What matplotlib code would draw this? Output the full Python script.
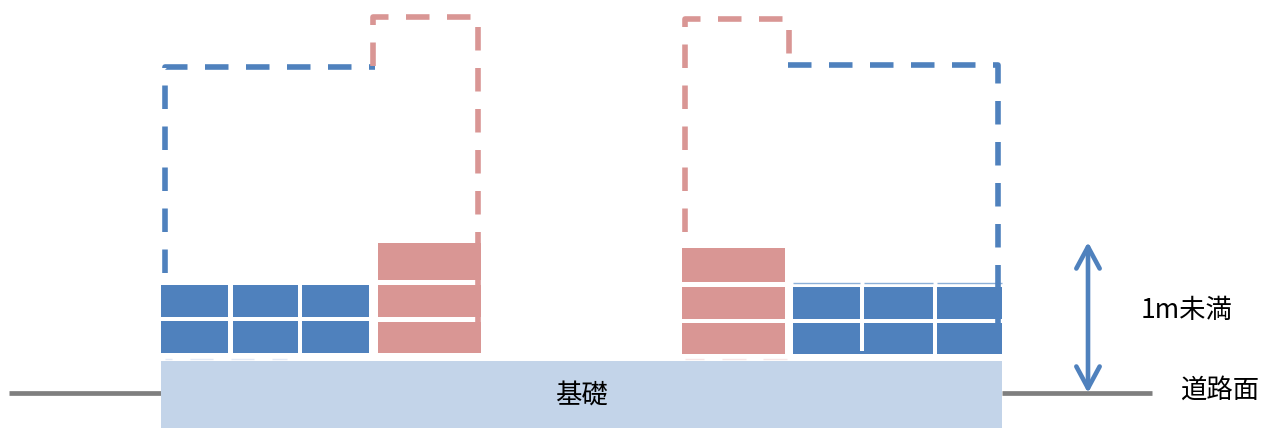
import matplotlib
matplotlib.use("Agg")
import matplotlib.pyplot as plt
from matplotlib.patches import Rectangle

plt.rcParams['font.family'] = ['Noto Sans CJK JP', 'DejaVu Sans']
plt.rcParams['lines.scale_dashes'] = False

BLUE = "#4F81BD"
PINK = "#D99694"
BASE = "#C3D4E9"
ROAD = "#7F7F7F"

# everything in pixels
left_blue_xs = [(161, 228), (233, 298), (302, 369)]
left_blue_ys = [(285, 317), (321, 353)]
left_pink_xs = [(378, 481)]
left_pink_ys = [(243, 280), (285, 317), (322, 353)]
right_pink_xs = [(682, 785)]
right_pink_ys = [(248, 282), (287, 319), (323, 354)]
right_blue_xs = [(793, 860), (864, 933), (937, 1002)]
right_blue_ys = [(287, 319), (323, 354)]
joint_xs = [(860, 864)]
joint_ys = [(351, 354)]
top_edge_xs = [(793, 860), (864, 933), (937, 1002)]
top_edge_y = 282.5

# faint leftovers just above the foundation
faint_blue_xs = [(165, 172), (190, 213), (231, 254), (272, 287)]
faint_pink_xs = [(685, 704), (722, 746), (763, 787)]
faint_y = 358.5

base_box = (161, 1002, 361, 428)
road_left = [9, 161]
road_right = [1002, 1152]
road_y = 392.5

# dashed outlines of the houses, with the dash phase in px
blue_left_x = [165, 165, 375]
blue_left_y = [285, 67, 67]
blue_left_phase = 29
pink_left_x = [373, 373, 478, 478]
pink_left_y = [66, 17, 17, 340]
pink_left_phase = 0
pink_right_x = [685, 685, 789, 789]
pink_right_y = [248, 19, 19, 64]
pink_right_phase = 25
blue_right_x = [788, 998, 998]
blue_right_y = [65, 65, 335]
blue_right_phase = 0

arrow_x = 1088
arrow_top = 242
arrow_bottom = 393

PX = 72 / 100  # px to points at this dpi

fig = plt.figure(figsize=(12.64, 4.28), dpi=100)
ax = fig.add_axes([0, 0, 1, 1])
ax.set_xlim(0, 1264)
ax.set_ylim(428, 0)
ax.axis("off")


def bricks(xs, ys, color):
    for x0, x1 in xs:
        for y0, y1 in ys:
            ax.add_patch(Rectangle((x0, y0), x1 - x0, y1 - y0, fc=color, ec="none", zorder=2))


bricks(left_blue_xs, left_blue_ys, BLUE)
bricks(left_pink_xs, left_pink_ys, PINK)
bricks(right_pink_xs, right_pink_ys, PINK)
bricks(right_blue_xs, right_blue_ys, BLUE)
bricks(joint_xs, joint_ys, BLUE)

for x0, x1 in top_edge_xs:
    ax.plot([x0, x1], [top_edge_y, top_edge_y], color="#8DB0D8", lw=1.4 * PX, solid_capstyle="butt", zorder=2)
for x0, x1 in faint_blue_xs:
    ax.plot([x0, x1], [faint_y, faint_y], color="#E4EAF5", lw=1.4 * PX, solid_capstyle="butt", zorder=1)
for x0, x1 in faint_pink_xs:
    ax.plot([x0, x1], [faint_y, faint_y], color="#F6E6E6", lw=1.4 * PX, solid_capstyle="butt", zorder=1)

ax.add_patch(Rectangle((base_box[0], base_box[2]), base_box[1] - base_box[0],
                       base_box[3] - base_box[2], fc=BASE, ec="none", zorder=2))

ax.plot(road_left, [road_y, road_y], color=ROAD, lw=4.7 * PX, solid_capstyle="butt", zorder=1)
ax.plot(road_right, [road_y, road_y], color=ROAD, lw=4.7 * PX, solid_capstyle="butt", zorder=1)

dash_on = 23.5 * PX
dash_off = 17.5 * PX
for xs, ys, phase, color in [(blue_left_x, blue_left_y, blue_left_phase, BLUE),
                             (pink_left_x, pink_left_y, pink_left_phase, PINK),
                             (pink_right_x, pink_right_y, pink_right_phase, PINK),
                             (blue_right_x, blue_right_y, blue_right_phase, BLUE)]:
    ax.plot(xs, ys, color=color, lw=5.6 * PX, linestyle=(phase * PX, (dash_on, dash_off)),
            dash_capstyle="butt", dash_joinstyle="round", zorder=3)

ax.annotate("", xy=(arrow_x, arrow_top), xytext=(arrow_x, arrow_bottom),
            arrowprops=dict(arrowstyle="<->,head_length=0.78,head_width=0.42", color=BLUE,
                            lw=4.6 * PX, shrinkA=0, shrinkB=0, mutation_scale=20), zorder=4)

ax.text(581.5, 396, "基礎", fontsize=19, ha="center", va="center", color="black", zorder=5)
ax.text(1187, 311, "1m未満", fontsize=19, ha="center", va="center", color="black")
ax.text(1220, 390, "道路面", fontsize=19, ha="center", va="center", color="black")

fig.savefig("out.png", dpi=100)
